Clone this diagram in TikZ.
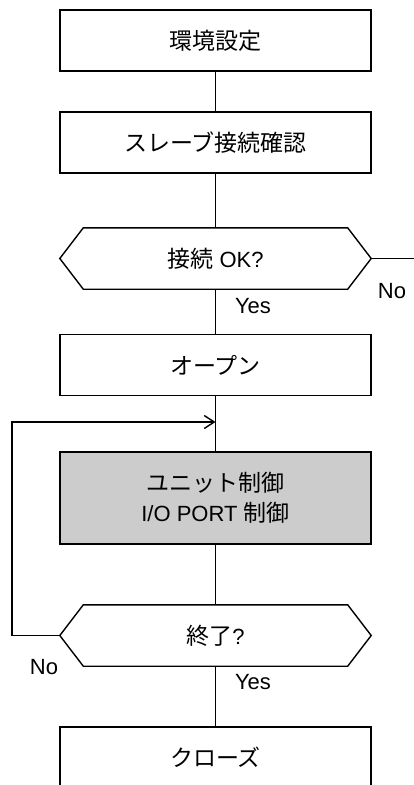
\documentclass[tikz,border=0pt]{standalone}
\usepackage{fontspec}
\setmainfont{Liberation Sans}
\newfontfamily\cjk{Noto Sans CJK JP}
\newcommand\jp[1]{{\cjk\fontsize{23}{30}\selectfont #1}}
\usetikzlibrary{arrows.meta}
\begin{document}
\begin{tikzpicture}[x=1pt,y=-1pt,
  txt/.style={font=\fontsize{22}{30}\selectfont},
  box/.style={draw, line width=1.4pt, minimum width=311pt, minimum height=61pt, inner sep=0pt, txt},
  grbox/.style={box, fill=black!20, line width=2.2pt, minimum height=92pt, align=center},
  hexbox/.style={minimum width=311pt, minimum height=61pt, inner sep=0pt, txt},
  hexline/.style={draw, line width=1.4pt},
  lab/.style={inner sep=0pt, txt},
  conn/.style={line width=1.4pt},
  arr/.style={conn, -{Straight Barb[length=10pt,width=13pt]}}]
\clip (0,0) rectangle (414,785);
\node[box] (b1) at (215.5,40.5) {\jp{環境設定}};
\node[box] (b2) at (215.5,142.5) {\jp{スレーブ接続確認}};
\node[hexbox] (h1) at (215.5,258.5) {\jp{接続} OK?};
\node[box] (b3) at (215.5,365) {\jp{オープン}};
\node[grbox] (b4) at (215.5,498) {\jp{ユニット制御}\\I/O PORT \jp{制御}};
\node[hexbox] (h2) at (215.5,635.5) {\jp{終了}?};
\node[box] (b5) at (215.5,757.5) {\jp{クローズ}};
\foreach \h in {h1,h2}{
  \draw[hexline] ([xshift=23.5pt]\h.north west) -- ([xshift=-23.5pt]\h.north east) -- (\h.east)
    -- ([xshift=-23.5pt]\h.south east) -- ([xshift=23.5pt]\h.south west) -- (\h.west) -- cycle;
}
\coordinate (e1) at (420,258.5);
\coordinate (lp) at (12,422);
\coordinate (ar) at (215.5,422);
\draw[conn] (b1) -- (b2);
\draw[conn] (b2) -- (h1);
\draw[conn] (h1) -- (b3);
\draw[conn] (b3) -- (b4);
\draw[conn] (b4) -- (h2);
\draw[conn] (h2) -- (b5);
\draw[conn] (h1.east) -- (e1);
\draw[arr] (h2.west) -| (lp) -- (ar);
\node[lab] (no1) at (392,291) {No};
\node[lab] (yes1) at (253,306) {Yes};
\node[lab] (no2) at (44,667) {No};
\node[lab] (yes2) at (253,682) {Yes};
\end{tikzpicture}
\end{document}
